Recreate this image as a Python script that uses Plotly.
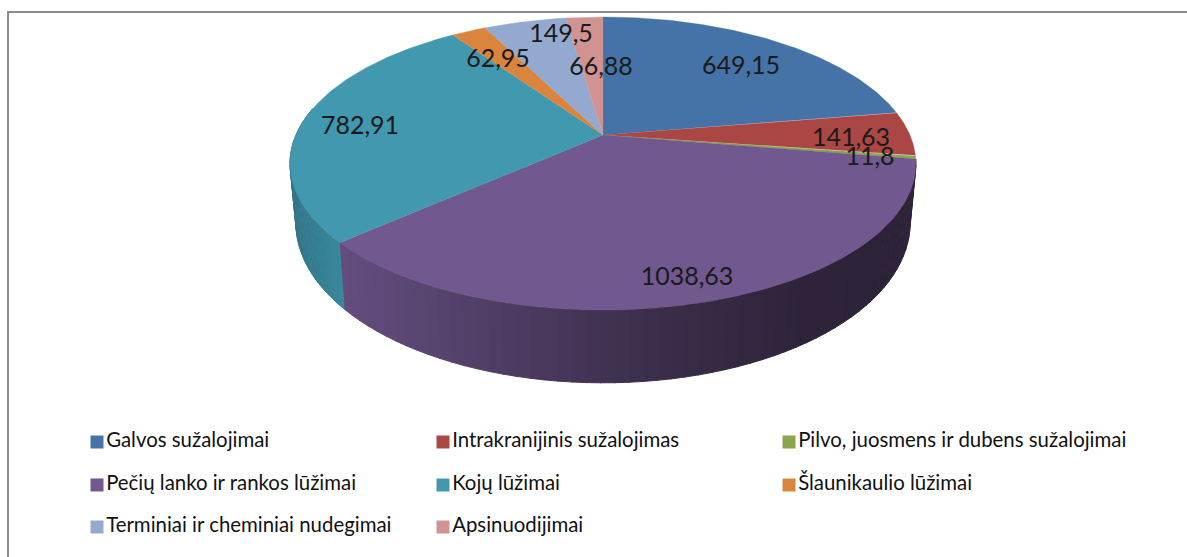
import numpy as np
import plotly.graph_objects as go

categories = ["Galvos sužalojimai", "Intrakranijinis sužalojimas", "Pilvo, juosmens ir dubens sužalojimai",
              "Pečių lanko ir rankos lūžimai", "Kojų lūžimai", "Šlaunikaulio lūžimai",
              "Terminiai ir cheminiai nudegimai", "Apsinuodijimai"]
values = [649.15, 141.63, 11.8, 1038.63, 782.91, 62.95, 149.5, 66.88]
labels = ["649,15", "141,63", "11,8", "1038,63", "782,91", "62,95", "149,5", "66,88"]
colors = ["#4572a7", "#aa4643", "#89a54e", "#71588f", "#4198af", "#db843d", "#93a9cf", "#d19392"]

CX, CY, A, B, K = 603.0, 135.0, 141.0, 307.0, 0.1946
FONT_LABEL = "Lato"
FONT_LEGEND = "Lato"


def top(theta):
    u, v = np.sin(theta), np.cos(theta)
    w = 1 + K * v
    return CX + B * u / w, CY - A * v / w


def bottom(theta):
    x, y = top(theta)
    return CX + (x - CX) * 0.981, y + 57 + 0.09 * (y - CY)


def mix(hexcol, f):
    r, g, b = int(hexcol[1:3], 16), int(hexcol[3:5], 16), int(hexcol[5:7], 16)
    return f"rgb({int(r*f)},{int(g*f)},{int(b*f)})"


fig = go.Figure()
fracs = np.array(values) / sum(values)
edges = np.concatenate([[0], np.cumsum(fracs)]) * 2 * np.pi

# side walls, thin shaded strips
for i in [3, 4]:
    a0, a1 = edges[i], edges[i + 1]
    a1 = min(a1, np.deg2rad(281))
    steps = np.linspace(a0, a1, 60)
    for s0, s1 in zip(steps[:-1], steps[1:]):
        ts = np.linspace(s0, s1 + 0.003, 4)
        xt, yt = top(ts)
        xb, yb = bottom(ts)
        xm = xt.mean()
        if i == 3:
            shade = np.interp(xm, [342, 620, 800, 916], [0.88, 0.56, 0.41, 0.40])
        else:
            shade = np.interp(xm, [290, 342], [0.78, 0.90])
        fig.add_trace(go.Scatter(
            x=np.r_[xt, xb[::-1]], y=np.r_[yt, yb[::-1]], fill="toself", mode="lines",
            line=dict(width=1, color=mix(colors[i], shade)), fillcolor=mix(colors[i], shade),
            hoverinfo="skip", showlegend=False))

# top face
for i, c in enumerate(colors):
    ts = np.linspace(edges[i], edges[i + 1], 120)
    xs, ys = top(ts)
    fig.add_trace(go.Scatter(
        x=np.r_[CX, xs, CX], y=np.r_[CY, ys, CY], fill="toself", mode="lines",
        line=dict(width=0.3, color=c), fillcolor=c, name=categories[i],
        hoverinfo="name", showlegend=False))

# data labels
label_x = [741, 851, 870, 687, 360, 498, 561, 601]
label_y = [68, 140, 159, 279, 128, 61, 36, 69]
fig.add_trace(go.Scatter(
    x=label_x, y=label_y, mode="text", text=labels, textposition="middle center",
    textfont=dict(family=FONT_LABEL, size=25, color="#1a1a1a"),
    hoverinfo="skip", showlegend=False))

# legend grid: 3 columns by 3 rows
col_x = [97, 443, 789]
row_y = [442, 485, 527]
leg_x = [col_x[i % 3] for i in range(len(categories))]
leg_y = [row_y[i // 3] for i in range(len(categories))]
for i in range(len(categories)):
    fig.add_trace(go.Scatter(
        x=[leg_x[i]], y=[leg_y[i]], mode="markers+text", text=[categories[i]],
        textposition="middle right",
        marker=dict(symbol="square", size=13, color=colors[i]),
        textfont=dict(family=FONT_LEGEND, size=20.4, color="#111111"),
        hoverinfo="skip", showlegend=False))

fig.update_layout(
    width=1187, height=557, margin=dict(l=0, r=0, t=0, b=0),
    paper_bgcolor="white", plot_bgcolor="white", showlegend=False,
    xaxis=dict(range=[0, 1187], visible=False, fixedrange=True),
    yaxis=dict(range=[557, 0], visible=False, fixedrange=True),
    shapes=[dict(type="rect", xref="x", yref="y", x0=8, y0=12, x1=1300, y1=700,
                 line=dict(color="#8c8c8c", width=2), fillcolor="rgba(0,0,0,0)", layer="below")],
)
fig.write_html("out.html", config={"displayModeBar": False},
               post_script="document.body.style.margin='0';")
